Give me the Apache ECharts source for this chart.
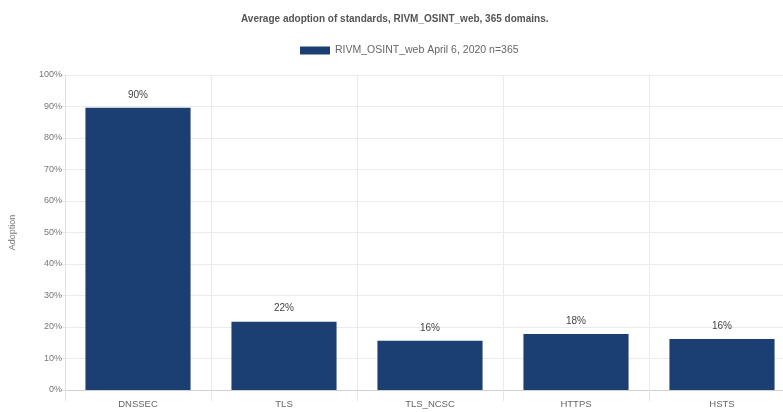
<!DOCTYPE html>
<html>
<head>
<meta charset="utf-8">
<script src="https://cdn.jsdelivr.net/npm/echarts@6/dist/echarts.min.js"></script>
<style>html,body{margin:0;padding:0;background:#fff;overflow:hidden}#c{width:796px;height:412px}</style>
</head>
<body>
<div id="c"></div>
<script>
var categories = ['DNSSEC', 'TLS', 'TLS_NCSC', 'HTTPS', 'HSTS'];
var adoption = [89.6, 21.7, 15.6, 17.8, 16.2];
var seriesName = 'RIVM_OSINT_web April 6, 2020 n=365';
var titleText = 'Average adoption of standards, RIVM_OSINT_web, 365 domains.';

var chart = echarts.init(document.getElementById('c'));
chart.setOption({
  animation: false,
  title: {
    text: titleText, left: 236, top: 9,
    textStyle: { fontFamily: 'Liberation Sans', fontSize: 10, fontWeight: 'bold', color: '#555' }
  },
  legend: {
    top: 40, left: 295, itemWidth: 30, itemHeight: 8, itemGap: 5, icon: 'rect',
    textStyle: { fontFamily: 'Liberation Sans', fontSize: 10.5, color: '#666' },
    data: [seriesName]
  },
  grid: { left: 65, right: 1, top: 75, bottom: 22, containLabel: false },
  xAxis: {
    type: 'category', data: categories,
    axisLine: { lineStyle: { color: '#d0d0d0' } },
    axisTick: { show: true, length: 11, lineStyle: { color: '#e6e6e6' } },
    axisLabel: { fontFamily: 'Liberation Sans', fontSize: 9.5, color: '#666', margin: 9 },
    splitLine: { show: true, lineStyle: { color: '#ebebeb' } }
  },
  yAxis: {
    type: 'value', min: 0, max: 100, interval: 10,
    name: 'Adoption', nameLocation: 'middle', nameGap: 48, nameRotate: 90,
    nameTextStyle: { fontFamily: 'Liberation Sans', fontSize: 9, color: '#777' },
    axisLine: { show: true, lineStyle: { color: '#e0e0e0' } },
    axisTick: { show: true, length: 6, lineStyle: { color: '#e6e6e6' } },
    axisLabel: { formatter: '{value}%', fontFamily: 'Liberation Sans', fontSize: 9, color: '#777', margin: 3 },
    splitLine: { lineStyle: { color: '#ebebeb' } }
  },
  series: [{
    name: seriesName, type: 'bar', data: adoption, barWidth: '72%',
    itemStyle: { color: '#1b3e73' },
    label: {
      show: true, position: 'top', distance: 8,
      formatter: function (p) { return Math.round(p.value) + '%'; },
      fontFamily: 'Liberation Sans', fontSize: 10, color: '#444'
    }
  }]
});
</script>
</body>
</html>
